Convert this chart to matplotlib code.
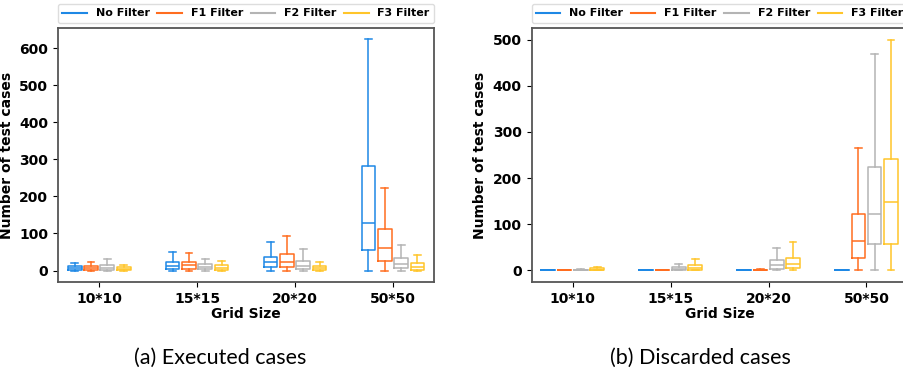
import matplotlib.pyplot as plt
from matplotlib.lines import Line2D

# grid sizes and filters
grids = ["10*10", "15*15", "20*20", "50*50"]
filters = ["No Filter", "F1 Filter", "F2 Filter", "F3 Filter"]
colors = ["#1E88E5", "#FF6D1F", "#B4B4B4", "#FFC52A"]

# (a) executed cases: per filter, one value per grid size
exec_min = {
    "No Filter": [0, 0, 0, 0],
    "F1 Filter": [0, 0, 0, 0],
    "F2 Filter": [0, 0, 0, 0],
    "F3 Filter": [0, 0, 0, 0],
}
exec_q1 = {
    "No Filter": [2, 3, 10, 55],
    "F1 Filter": [2, 4, 9, 25],
    "F2 Filter": [1, 3, 3, 6],
    "F3 Filter": [1, 2, 1, 2],
}
exec_med = {
    "No Filter": [6, 11, 22, 128],
    "F1 Filter": [7, 14, 22, 62],
    "F2 Filter": [7, 9, 12, 17],
    "F3 Filter": [5, 7, 8, 10],
}
exec_q3 = {
    "No Filter": [11, 23, 37, 283],
    "F1 Filter": [11, 22, 44, 111],
    "F2 Filter": [14, 17, 27, 33],
    "F3 Filter": [10, 14, 13, 20],
}
exec_max = {
    "No Filter": [21, 51, 76, 624],
    "F1 Filter": [22, 46, 93, 224],
    "F2 Filter": [30, 31, 57, 70],
    "F3 Filter": [16, 27, 22, 41],
}

# (b) discarded cases
disc_min = {
    "No Filter": [0, 0, 0, 0],
    "F1 Filter": [0, 0, 0, 0],
    "F2 Filter": [0, 0, 0, 0],
    "F3 Filter": [0, 0, 0, 0],
}
disc_q1 = {
    "No Filter": [0, 0, 0, 0],
    "F1 Filter": [0, 0, 0, 26],
    "F2 Filter": [0, 0, 3, 58],
    "F3 Filter": [0, 1, 6, 58],
}
disc_med = {
    "No Filter": [0, 0, 0, 0],
    "F1 Filter": [0, 0, 1, 64],
    "F2 Filter": [1, 3, 11, 122],
    "F3 Filter": [2, 6, 15, 148],
}
disc_q3 = {
    "No Filter": [0, 0, 0, 0],
    "F1 Filter": [0, 0, 2, 122],
    "F2 Filter": [2, 7, 23, 225],
    "F3 Filter": [5, 11, 28, 242],
}
disc_max = {
    "No Filter": [0, 0, 0, 0],
    "F1 Filter": [0, 0, 3, 266],
    "F2 Filter": [3, 13, 48, 469],
    "F3 Filter": [8, 24, 62, 500],
}

offsets = [-0.25, -0.083, 0.083, 0.25]
box_w = 0.14


def draw_panel(ax, mins, q1s, meds, q3s, maxs):
    for k, f in enumerate(filters):
        stats = []
        for g in range(len(grids)):
            stats.append({
                "whislo": mins[f][g], "q1": q1s[f][g], "med": meds[f][g],
                "q3": q3s[f][g], "whishi": maxs[f][g], "fliers": [],
            })
        pos = [g + 1 + offsets[k] for g in range(len(grids))]
        c = colors[k]
        ax.bxp(stats, positions=pos, widths=box_w, showfliers=False,
               boxprops=dict(color=c, linewidth=1.1),
               medianprops=dict(color=c, linewidth=1.1),
               whiskerprops=dict(color=c, linewidth=1.1),
               capprops=dict(color=c, linewidth=1.1),
               manage_ticks=False)
    ax.set_xlim(0.58, 4.42)
    ax.set_xticks(range(1, len(grids) + 1))
    ax.set_xticklabels(grids)
    ax.set_xlabel("Grid Size", fontsize=10, fontweight="bold", labelpad=1)
    ax.set_ylabel("Number of test cases", fontsize=10, fontweight="bold")
    for lab in ax.get_xticklabels() + ax.get_yticklabels():
        lab.set_fontweight("bold")
        lab.set_fontsize(10)
    for s in ax.spines.values():
        s.set_color("#555555")
        s.set_linewidth(1.3)
    handles = [Line2D([], [], color=c, linewidth=1.5) for c in colors]
    leg = ax.legend(handles, filters, loc="lower left", ncol=4, mode="expand",
                    bbox_to_anchor=(0, 1.02, 1, 0.1), borderaxespad=0,
                    prop={"weight": "bold", "size": 8}, handlelength=2.2,
                    handletextpad=0.8, columnspacing=0.8,
                    fancybox=True, framealpha=1, edgecolor="#dddddd")
    return leg


fig = plt.figure(figsize=(9.04, 3.76), dpi=100)
ax1 = fig.add_axes([0.0642, 0.25, 0.416, 0.6755])
ax2 = fig.add_axes([0.588, 0.25, 0.416, 0.6755])

draw_panel(ax1, exec_min, exec_q1, exec_med, exec_q3, exec_max)
draw_panel(ax2, disc_min, disc_q1, disc_med, disc_q3, disc_max)
ax1.set_ylim(-31, 655)
ax2.set_ylim(-25, 525)

fig.text(220 / 904, 1 - 358 / 376, "(a) Executed cases", ha="center", va="center",
         fontsize=15.5, family="Lato")
fig.text(700 / 904, 1 - 358 / 376, "(b) Discarded cases", ha="center", va="center",
         fontsize=15.5, family="Lato")

fig.savefig("out.png", dpi=100)
